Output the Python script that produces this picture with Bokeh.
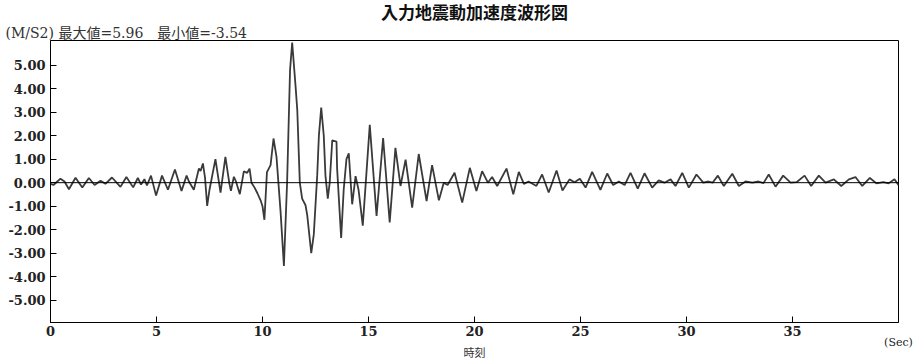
from bokeh.plotting import figure
from bokeh.models import Span, FixedTicker, PrintfTickFormatter, Title, LinearAxis
from bokeh.embed import file_html
from bokeh.resources import INLINE

# ---- data ----
title_text = "入力地震動加速度波形図"
stats_text = "(M/S2) 最大値=5.96\u3000最小値=-3.54"
x_label_text = "時刻"
x_unit_text = "(Sec)"

x_ticks = [0, 5, 10, 15, 20, 25, 30, 35]
x_unit_tick = [40]
y_ticks = [-5, -4, -3, -2, -1, 0, 1, 2, 3, 4, 5]

time_s = [
    0.00, 0.14, 0.47, 0.66, 0.87, 1.18, 1.50, 1.81, 2.08, 2.36, 2.59, 2.90,
    3.30, 3.58, 3.90, 4.12, 4.27, 4.43, 4.55, 4.74, 4.98, 5.26, 5.54, 5.87,
    6.18, 6.42, 6.53, 6.76, 7.00, 7.08, 7.19, 7.29, 7.39, 7.50, 7.78, 8.02,
    8.25, 8.44, 8.51, 8.65, 8.75, 8.93, 9.12, 9.28, 9.39, 9.48, 9.62, 9.76,
    9.91, 10.00, 10.09, 10.21, 10.38, 10.52, 10.66, 10.85, 11.01, 11.16, 11.30,
    11.40, 11.56, 11.64, 11.76, 11.87, 12.03, 12.11, 12.30, 12.42, 12.58, 12.66,
    12.77, 12.89, 12.97, 13.08, 13.17, 13.29, 13.49, 13.52, 13.71, 13.83, 13.96,
    14.07, 14.23, 14.39, 14.53, 14.73, 14.91, 15.06, 15.38, 15.69, 16.00, 16.27,
    16.51, 16.75, 17.06, 17.37, 17.74, 18.00, 18.32, 18.55, 18.73, 19.06, 19.42,
    19.78, 20.09, 20.36, 20.63, 20.83, 21.07, 21.51, 21.83, 22.09, 22.33, 22.55,
    22.92, 23.19, 23.50, 23.87, 24.15, 24.48, 24.72, 24.97, 25.24, 25.55, 25.94,
    26.26, 26.54, 26.81, 27.08, 27.36, 27.70, 28.02, 28.38, 28.69, 28.96, 29.25,
    29.48, 29.80, 30.11, 30.47, 30.79, 31.04, 31.23, 31.48, 31.76, 32.16, 32.47,
    32.78, 33.11, 33.40, 33.63, 33.88, 34.20, 34.56, 34.91, 35.19, 35.57, 35.88,
    36.24, 36.56, 36.95, 37.30, 37.66, 37.97, 38.29, 38.65, 38.96, 39.29, 39.53,
    39.81, 40.00,
]

accel = [
    -0.05, -0.10, 0.17, 0.05, -0.28, 0.21, -0.21, 0.20, -0.10, 0.08, -0.05, 0.22,
    -0.18, 0.24, -0.20, 0.20, -0.08, 0.15, -0.12, 0.30, -0.55, 0.30, -0.30, 0.56,
    -0.35, 0.30, 0.05, -0.30, 0.60, 0.50, 0.82, 0.20, -0.99, -0.30, 1.00, -0.42,
    1.10, -0.05, -0.35, 0.25, 0.05, -0.49, 0.48, 0.42, 0.60, 0.00, -0.20, -0.45,
    -0.75, -1.00, -1.58, 0.45, 0.75, 1.88, 1.10, -1.20, -3.54, 0.00, 4.80,
    5.96, 4.10, 3.10, 0.00, -0.68, -0.96, -1.38, -3.00, -2.20, 0.30, 2.00,
    3.20, 2.00, 0.30, -0.68, 0.00, 1.80, 1.75, 0.60, -2.35, -0.30, 1.00,
    1.25, -0.92, 0.28, -0.30, -1.83, 0.50, 2.46, -1.41, 1.90, -1.69, 1.48,
    -0.14, 0.98, -1.06, 1.22, -0.78, 0.75, -0.75, 0.00, -0.10, 0.42, -0.85,
    0.63, -0.35, 0.49, 0.00, 0.24, -0.14, 0.60, -0.49, 0.46, -0.05, 0.05,
    -0.14, 0.35, -0.42, 0.52, -0.33, 0.14, 0.02, 0.17, -0.21, 0.46, -0.31,
    0.39, -0.10, 0.05, -0.10, 0.42, -0.25, 0.40, -0.21, 0.10, 0.00, 0.14,
    -0.14, 0.42, -0.21, 0.35, 0.00, 0.05, 0.00, 0.30, -0.14, 0.38, -0.14,
    0.05, 0.00, 0.05, -0.02, 0.35, -0.17, 0.30, 0.00, 0.02, 0.30, -0.14,
    0.30, 0.00, 0.14, -0.14, 0.14, 0.24, -0.14, 0.20, -0.03, 0.02, -0.03,
    0.15, -0.10,
]

SERIF = "DejaVu Serif"
MIXED_SERIF = "DejaVu Serif, Noto Sans CJK JP"
MIXED_SANS = "DejaVu Sans, Noto Sans CJK JP"

p = figure(
    width=915, height=362,
    x_range=(0, 40), y_range=(-5.95, 6.05),
    output_backend="svg", toolbar_location=None,
    min_border_left=50, min_border_right=17,
    min_border_top=40, min_border_bottom=38,
    background_fill_color="white", border_fill_color="white",
)
p.xgrid.visible = False
p.ygrid.visible = False
p.outline_line_color = "black"
p.outline_line_width = 1
p.outline_line_alpha = 1.0

# titles (first added = closest to the frame)
p.add_layout(Title(text=stats_text, align="left", offset=-45, standoff=0,
                   text_font=MIXED_SERIF, text_font_size="14px", text_font_style="normal",
                   text_color="#333333"), "above")
p.add_layout(Title(text=title_text, align="center", standoff=0,
                   text_font=MIXED_SANS, text_font_size="17px", text_font_style="bold",
                   text_color="#111111"), "above")

# main axes
for ax in (p.xaxis[0], p.yaxis[0]):
    ax.axis_line_color = "black"
    ax.axis_line_width = 1
    ax.major_tick_line_color = "black"
    ax.major_tick_in = 6
    ax.major_tick_out = 0
    ax.minor_tick_line_color = None
    ax.major_label_text_font = SERIF
    ax.major_label_text_font_style = "bold"
    ax.major_label_text_color = "#222222"
    ax.major_label_text_font_size = "13px"

p.xaxis.ticker = FixedTicker(ticks=x_ticks)
p.xaxis.major_label_standoff = 3
p.yaxis.ticker = FixedTicker(ticks=y_ticks)
p.yaxis.formatter = PrintfTickFormatter(format="%.2f")
p.yaxis.major_label_standoff = 5

# second bottom axis: unit "(Sec)" at the right end and the axis title
unit_axis = LinearAxis(
    ticker=FixedTicker(ticks=x_unit_tick),
    major_label_overrides={x_unit_tick[0]: x_unit_text},
    axis_line_color=None, major_tick_line_color=None, minor_tick_line_color=None,
    major_tick_in=0, major_tick_out=0,
    major_label_standoff=-3,
    major_label_text_font=SERIF, major_label_text_font_size="11px",
    major_label_text_color="#222222",
    axis_label=x_label_text, axis_label_standoff=-5,
    axis_label_text_font=MIXED_SANS, axis_label_text_font_size="11px",
    axis_label_text_font_style="normal", axis_label_text_color="#333333",
)
p.add_layout(unit_axis, "below")

# waveform
p.line(time_s, accel, line_color="#3a3a3a", line_width=1.8)

# zero line
p.add_layout(Span(location=0, dimension="width", line_color="black", line_width=1))

open("out.html", "w").write(file_html(p, INLINE))
